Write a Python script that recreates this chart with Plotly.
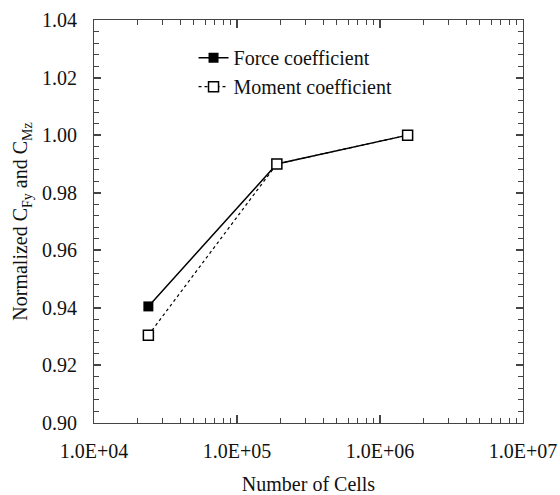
import plotly.graph_objects as go

cells = [24000, 190000, 1560000]
force_coef = [0.9405, 0.990, 1.000]
moment_coef = [0.9305, 0.990, 1.000]
x_tickvals = [1e4, 1e5, 1e6, 1e7]
x_ticktext = ["1.0E+04", "1.0E+05", "1.0E+06", "1.0E+07"]
y_tickvals = [0.90, 0.92, 0.94, 0.96, 0.98, 1.00, 1.02, 1.04]
y_ticktext = ["0.90", "0.92", "0.94", "0.96", "0.98", "1.00", "1.02", "1.04"]

FONT = "Liberation Serif"
AX = "#444444"

fig = go.Figure()
fig.add_trace(go.Scatter(
    x=cells, y=force_coef, mode="lines+markers", name="Force coefficient",
    line=dict(color="black", width=1.5),
    marker=dict(symbol="square", size=10, color="black"),
))
fig.add_trace(go.Scatter(
    x=cells, y=moment_coef, mode="lines+markers", name="Moment coefficient",
    line=dict(color="black", width=1.2, dash="dot"),
    marker=dict(symbol="square", size=10, color="white", line=dict(width=1.5, color="black")),
))

fig.update_layout(
    template="none",
    width=560, height=495,
    margin=dict(l=94, r=37, t=20, b=72),
    paper_bgcolor="white", plot_bgcolor="white",
    font=dict(family=FONT, size=20, color="#111111"),
    showlegend=True,
    legend=dict(x=0.232, y=0.955, xanchor="left", yanchor="top",
                bgcolor="rgba(0,0,0,0)", font=dict(size=20),
                tracegroupgap=0, itemwidth=30),
    xaxis=dict(
        type="log", range=[4, 7], automargin=False,
        tickmode="array", tickvals=x_tickvals, ticktext=x_ticktext,
        ticks="inside", ticklen=8, tickwidth=1.5, tickcolor=AX,
        showline=True, linecolor=AX, linewidth=1.2, mirror="allticks",
        showgrid=False, zeroline=False, ticklabelstandoff=10,
        minor=dict(ticks="inside", ticklen=5, tickwidth=1.2, tickcolor=AX, dtick="D1", showgrid=False),
        title=dict(text="Number of Cells", font=dict(size=20), standoff=16),
        tickfont=dict(size=20),
    ),
    yaxis=dict(
        range=[0.90, 1.04], automargin=False,
        tickmode="array", tickvals=y_tickvals, ticktext=y_ticktext,
        ticks="inside", ticklen=7, tickwidth=1.5, tickcolor=AX,
        showline=True, linecolor=AX, linewidth=1.2, mirror="allticks",
        showgrid=False, zeroline=False, ticklabelstandoff=12,
        minor=dict(ticks="inside", ticklen=5, tickwidth=1.2, tickcolor=AX, dtick=0.004, showgrid=False),
        title=dict(text="Normalized C<sub>Fy</sub> and C<sub>Mz</sub>", font=dict(size=20), standoff=8),
        tickfont=dict(size=20),
    ),
)

fig.write_html("out.html", config={"displayModeBar": False},
               post_script="document.body.style.margin='0';")
